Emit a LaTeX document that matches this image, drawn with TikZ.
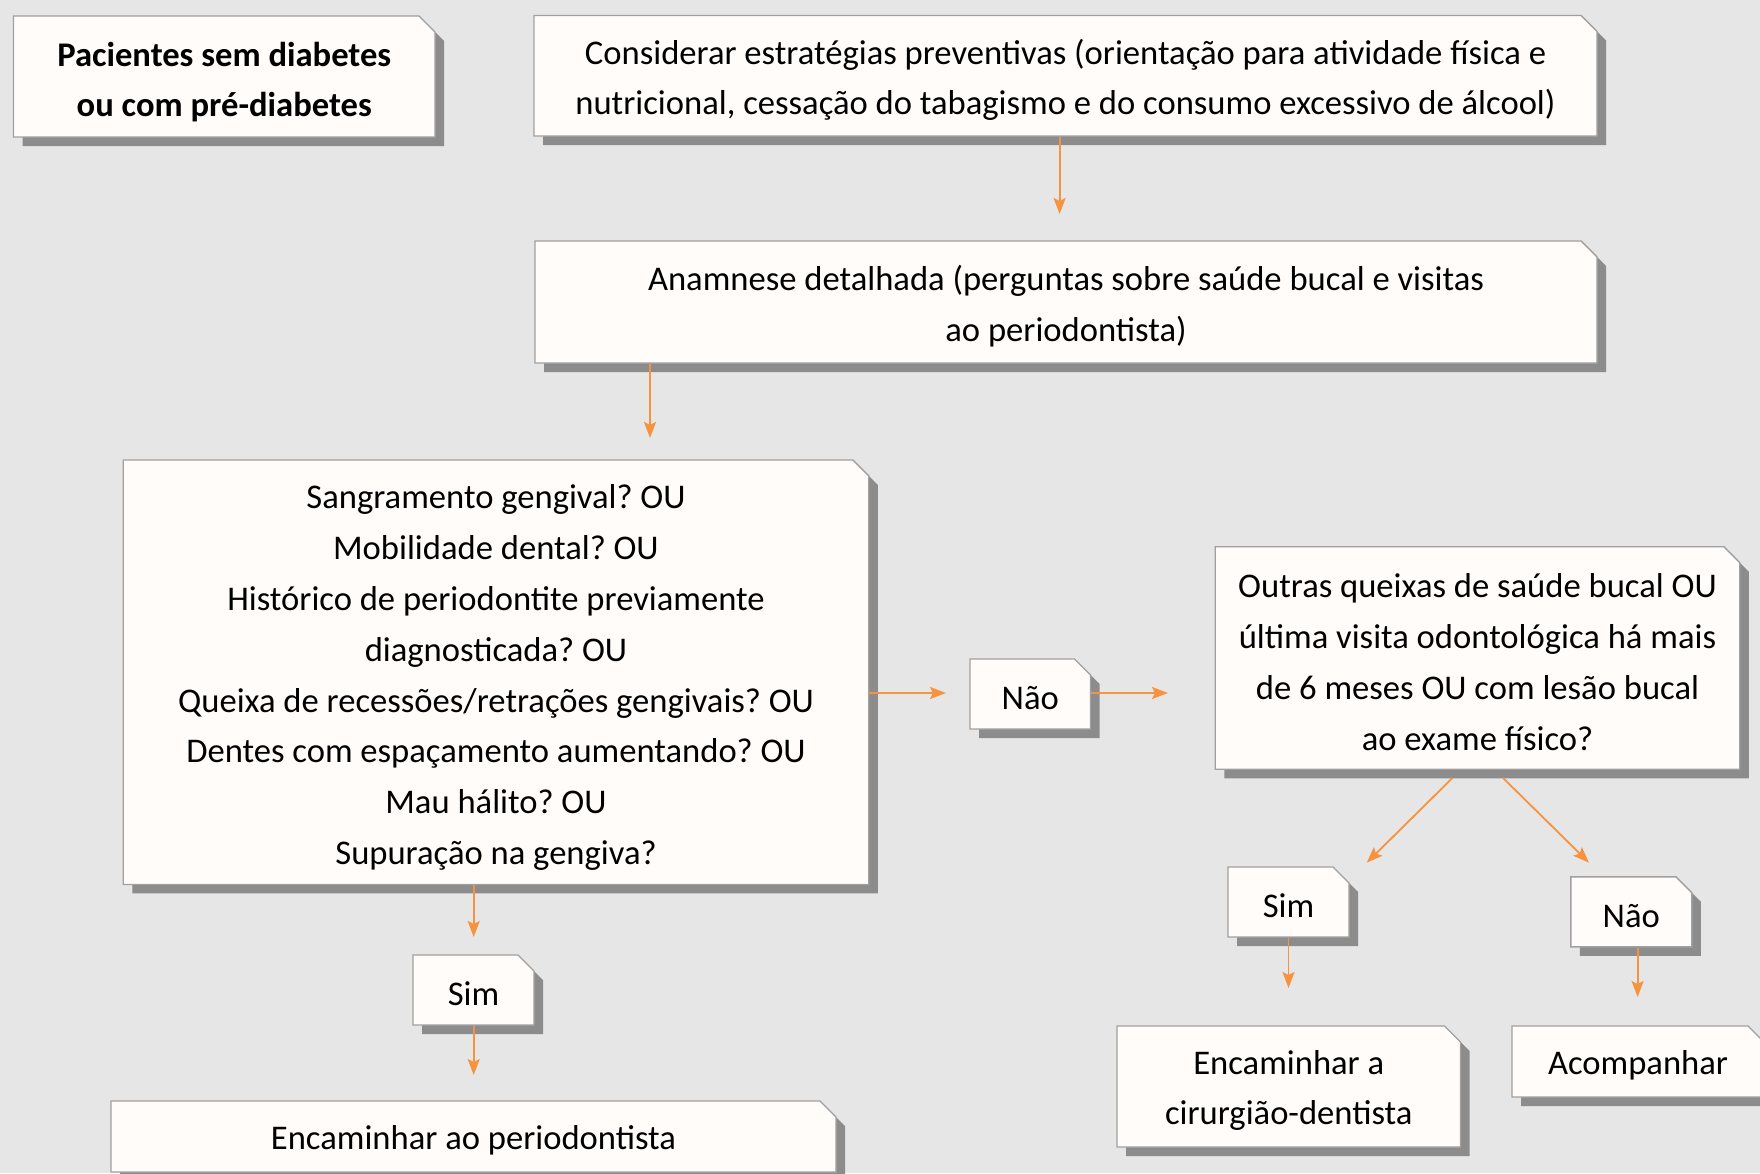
\documentclass[tikz,border=0pt]{standalone}
\usepackage{fontspec}
\setmainfont{Carlito}
\frenchspacing
\usetikzlibrary{shapes.misc,shadows,arrows.meta}
\definecolor{bgc}{RGB}{230,230,230}
\definecolor{boxfill}{RGB}{255,252,249}
\definecolor{boxline}{RGB}{160,160,160}
\definecolor{shadowc}{RGB}{140,140,140}
\definecolor{arrc}{RGB}{247,146,62}
\newcommand\boxfiller{\hbox to 40pt{\vrule height 20pt depth 20pt width 0pt\hfil}}
\tikzset{
 cbox/.style={chamfered rectangle, chamfered rectangle corners=north east,
   chamfered rectangle xsep=8pt, chamfered rectangle ysep=8pt,
   draw=boxline, line width=1.4pt, fill=boxfill, inner sep=0pt,
   drop shadow={shadow xshift=9pt, shadow yshift=-9pt, fill=shadowc, opacity=1}},
 tl/.style={inner sep=0pt, align=center, yshift=-4pt,
   font=\fontsize{34.6}{50.8}\selectfont\frenchspacing},
 arr/.style={draw=arrc, line width=1.8pt, -{Stealth[length=16pt,width=12pt,inset=3pt]}}
}
\begin{document}
\begin{tikzpicture}[x=1pt,y=-1pt]
\fill[bgc] (0,0) rectangle (1760,1173);
\useasboundingbox (0,0) rectangle (1760,1173);

\node[cbox, minimum width=421.5pt, minimum height=121pt,
  label={[tl,name=b1t,yshift=-1.5pt,font=\fontsize{34.6}{50.8}\selectfont\bfseries\frenchspacing]center:{Pacientes sem diabetes\\ou com pré-diabetes}}] (b1) at (224.25,76.5) {\boxfiller};
\node[cbox, minimum width=1063pt, minimum height=120.5pt,
  label={[tl,name=b2t]center:{Considerar estratégias preventivas (orientação para atividade física e\\nutricional, cessação do tabagismo e do consumo excessivo de álcool)}}] (b2) at (1065.5,75.75) {\boxfiller};
\node[cbox, minimum width=1062pt, minimum height=122pt,
  label={[tl,name=b3t]center:{Anamnese detalhada (perguntas sobre saúde bucal e visitas\\ao periodontista)}}] (b3) at (1066,302) {\boxfiller};
\node[cbox, minimum width=745.5pt, minimum height=424.5pt,
  label={[tl,name=b4t,yshift=-1.5pt]center:{Sangramento gengival? OU\\Mobilidade dental? OU\\Histórico de periodontite previamente\\diagnosticada? OU\\Queixa de recessões/retrações gengivais? OU\\Dentes com espaçamento aumentando? OU\\Mau hálito? OU\\Supuração na gengiva?}}] (b4) at (496,672.2) {\boxfiller};
\node[cbox, minimum width=120.5pt, minimum height=70pt,
  label={[tl,name=n1t]center:{Não}}] (n1) at (1030.25,694) {\boxfiller};
\node[cbox, minimum width=524.5pt, minimum height=222.5pt,
  label={[tl,name=ot]center:{Outras queixas de saúde bucal OU\\última visita odontológica há mais\\de 6 meses OU com lesão bucal\\ao exame físico?}}] (o) at (1477.5,658) {\boxfiller};
\node[cbox, minimum width=121pt, minimum height=70pt,
  label={[tl,name=s1t]center:{Sim}}] (s1) at (473.5,990) {\boxfiller};
\node[cbox, minimum width=725pt, minimum height=71pt,
  label={[tl,name=e1t]center:{Encaminhar ao periodontista}}] (e1) at (473.5,1136.5) {\boxfiller};
\node[cbox, minimum width=121pt, minimum height=70pt,
  label={[tl,name=s2t]center:{Sim}}] (s2) at (1288.5,902) {\boxfiller};
\node[cbox, minimum width=121pt, minimum height=70pt,
  label={[tl,name=n2t]center:{Não}}] (n2) at (1631.3,911.8) {\boxfiller};
\node[cbox, minimum width=343.5pt, minimum height=121pt,
  label={[tl,name=e2t]center:{Encaminhar a\\cirurgião-dentista}}] (e2) at (1288.75,1086.5) {\boxfiller};
\node[cbox, minimum width=252pt, minimum height=71pt,
  label={[tl,name=act]center:{Acompanhar}}] (ac) at (1638,1061.5) {\boxfiller};

\coordinate (a1e) at (1059.6,214);
\coordinate (a2e) at (650,438);
\coordinate (a3e) at (473.7,937);
\coordinate (a4e) at (473.7,1075);
\coordinate (a5e) at (946,693);
\coordinate (a6e) at (1168,693);
\coordinate (a7e) at (1366.7,862.7);
\coordinate (a8e) at (1589,862.7);
\coordinate (a9e) at (1288.5,988);
\coordinate (a10e) at (1637.6,997);

\draw[arr] (b2.south -| a1e) -- (a1e);
\draw[arr] (b3.south -| a2e) -- (a2e);
\draw[arr] (b4.south -| a3e) -- (a3e);
\draw[arr] (s1.south -| a4e) -- (a4e);
\draw[arr] (b4.east |- a5e) -- (a5e);
\draw[arr] (n1.east |- a6e) -- (a6e);
\draw[arr] ([shift={(-25pt,-8pt)}]o.south) -- (a7e);
\draw[arr] ([shift={(25.5pt,-8pt)}]o.south) -- (a8e);
\draw[arr] (s2.south -| a9e) -- (a9e);
\draw[arr] (n2.south -| a10e) -- (a10e);
\end{tikzpicture}
\end{document}
